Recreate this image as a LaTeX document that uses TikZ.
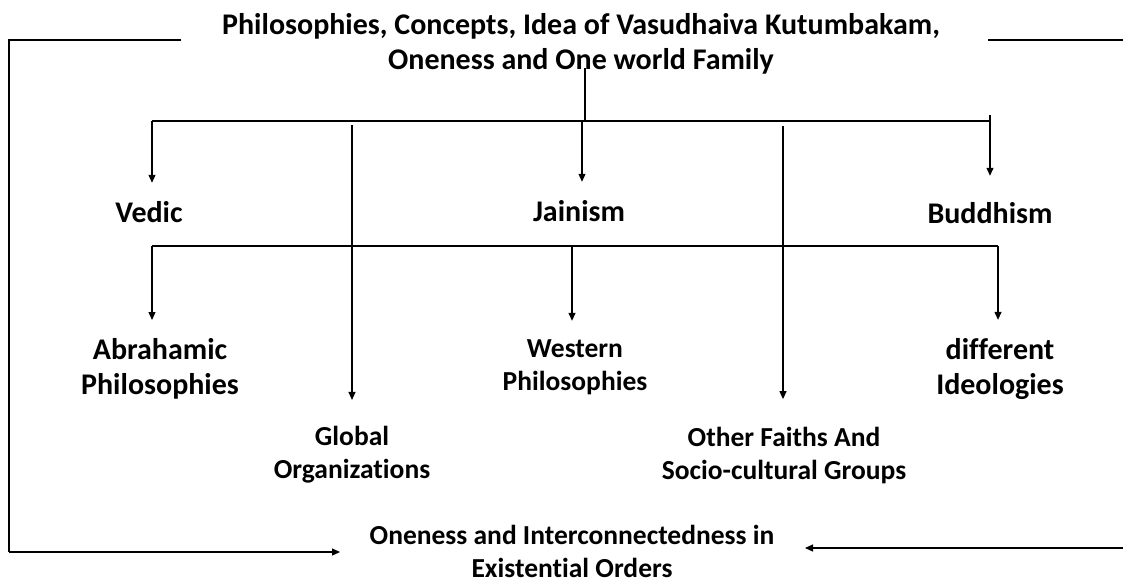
\documentclass[tikz,border=0pt]{standalone}
\usepackage{fontspec}
\setmainfont{Carlito}[Ligatures=NoCommon]
\usetikzlibrary{arrows.meta}

\begin{document}
\begin{tikzpicture}[x=1pt,y=-1pt,line width=1.2pt,
  arr/.style={-{Triangle[length=8pt,width=7pt]},shorten >=#1},
  arr/.default=18pt,
  big/.style={font=\fontsize{30}{35}\selectfont\bfseries,align=center,inner sep=0pt},
  small/.style={font=\fontsize{27.5}{33}\selectfont\bfseries,align=center,inner sep=0pt}]
 \useasboundingbox (0,0) rectangle (1123,584);

 % texts
 \node[big] (title) at (581,44)
 {Philosophies, Concepts, Idea of Vasudhaiva Kutumbakam,\\Oneness and One world Family};
 \node[big] (vedic) at (149,212) {Vedic};
 \node[big] (jain) at (579,211) {Jainism};
 \node[big] (budd) at (990,213) {Buddhism};
 \node[big] (abra) at (160,369) {Abrahamic\\Philosophies};
 \node[small] (west) at (575,367) {Western\\Philosophies};
 \node[big] (diff) at (1000,369) {different\\Ideologies};
 \node[small] (glob) at (352,455) {Global\\Organizations};
 \node[small] (other) at (784,456) {Other Faiths And\\Socio-cultural Groups};
 \node[small] (one) at (572,551) {Oneness and Interconnectedness in\\Existential Orders};

 % branch points
 \coordinate (stem) at (585,68);
 \coordinate (hub) at (585,121);
 \coordinate (hl) at (152,121);
 \coordinate (hr) at (990,121);
 \coordinate (hb) at (990,115);
 \coordinate (gl) at (352,125);
 \coordinate (ot) at (783,126);
 \coordinate (ml) at (152,246);
 \coordinate (mw) at (572,246);
 \coordinate (mr) at (998,246);
 \coordinate (lt) at (181,40);
 \coordinate (lc) at (9,40);
 \coordinate (lb) at (9,552);
 \coordinate (rt) at (988,40);
 \coordinate (re) at (1123,40);
 \coordinate (rb) at (1123,548);

 % first level
 \draw (stem) -- (hub);
 \draw (hl) -- (hr);
 \draw[arr] (hl) -- (hl |- vedic.north);
 \draw[arr] (582,121) -- (582,121 |- jain.north);
 \draw[arr=26pt] (hb) -- (hb |- budd.north);

 % second level
 \draw (ml) -- (mr);
 \draw[arr] (ml) -- (ml |- abra.north);
 \draw[arr] (mw) -- (mw |- west.north);
 \draw[arr] (mr) -- (mr |- diff.north);
 \draw[arr=26pt] (gl) -- (gl |- glob.north);
 \draw[arr=28pt] (ot) -- (ot |- other.north);

 % outer frame
 \draw (lt) -- (lc) -- (lb);
 \draw[arr=0pt] (lb) -- (340,552);
 \draw (rt) -- (re);
 \draw[arr=0pt] (rb) -- (805,548);
\end{tikzpicture}
\end{document}
